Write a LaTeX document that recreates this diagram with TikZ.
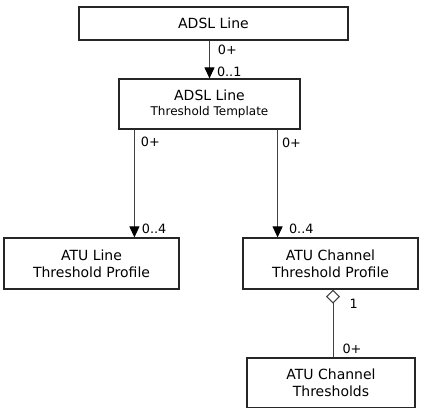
\documentclass[tikz,border=0pt]{standalone}
\usepackage{fontspec}
\setmainfont{DejaVu Sans}
\usetikzlibrary{arrows.meta,calc}

\begin{document}
\begin{tikzpicture}[x=0.75pt,y=-0.75pt,>={Triangle[width=7.5pt,length=8.25pt,color=black]},
  box/.style={draw=black!85,line width=0.9pt,align=center,inner sep=0pt,
    font=\fontsize{10.5}{12.75}\selectfont},
  link/.style={draw=black!75,line width=0.75pt},
  mult/.style={inner sep=0pt,anchor=base west,font=\fontsize{9.6}{11}\selectfont}]
\useasboundingbox (0,0) rectangle (426,408);
\node[box,minimum width=201.75pt,minimum height=24.75pt] (adsl)   at (213.5,23.5) {ADSL Line};
\node[box,minimum width=135.75pt,minimum height=37.5pt]  (tmpl)   at (209.5,104)
  {ADSL Line\\[-1.5pt]{\fontsize{9}{10.5}\selectfont Threshold Template}};
\node[box,minimum width=131.25pt,minimum height=38.25pt] (atuline) at (91.5,263.5)
  {ATU Line\\Threshold Profile};
\node[box,minimum width=131.25pt,minimum height=38.25pt] (chprof)  at (330.5,263.5)
  {ATU Channel\\Threshold Profile};
\node[box,minimum width=126pt,minimum height=37.5pt]     (chthr)   at (331,383)
  {ATU Channel\\Thresholds};
\coordinate (tl) at ($(tmpl.south west)+(16,0)$);
\coordinate (tr) at ($(tmpl.south east)+(-23,0)$);
\coordinate (dc) at ($(chprof.south)+(2.5,0)$);
\draw[link,->] (tmpl.north |- adsl.south) -- (tmpl.north)
  node[mult,pos=0,xshift=6pt,yshift=-10.5pt] {0+}
  node[mult,pos=1,xshift=5.25pt,yshift=1.5pt] {0..1};
\draw[link,->] (tl) -- (tl |- atuline.north)
  node[mult,pos=0,xshift=4.5pt,yshift=-12.75pt] {0+}
  node[mult,pos=1,xshift=5.25pt,yshift=2.6pt] {0..4};
\draw[link,->] (tr) -- (tr |- chprof.north)
  node[mult,pos=0,xshift=3pt,yshift=-13.5pt] {0+}
  node[mult,pos=1,xshift=8.25pt,yshift=2.6pt] {0..4};
\draw[link,{Diamond[open,width=10.5pt,length=10.5pt]}-] (dc) -- (dc |- chthr.north)
  node[mult,pos=0,xshift=12pt,yshift=-14.25pt] {1}
  node[mult,pos=1,xshift=6.75pt,yshift=3pt] {0+};
\end{tikzpicture}
\end{document}
